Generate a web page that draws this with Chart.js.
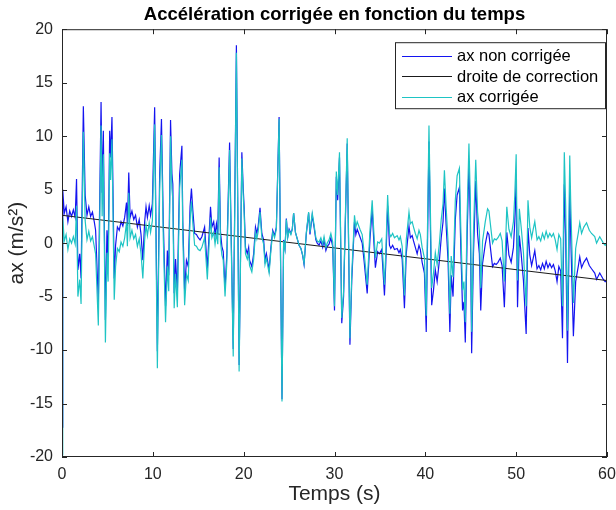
<!DOCTYPE html>
<html>
<head>
<meta charset="utf-8">
<script src="https://cdn.jsdelivr.net/npm/chart.js@4.4.0/dist/chart.umd.min.js"></script>
<style>
  html, body { margin: 0; padding: 0; background: #fff; }
</style>
</head>
<body>
<canvas id="graphe" width="616" height="510"></canvas>
<script>
// temps (s) des sommets
const temps = [
  0, 0.08, 0.25, 0.45, 0.65, 0.85, 1.05, 1.25, 1.45, 1.6,
  1.75, 1.95, 2.1, 2.35, 2.55, 2.75, 2.95, 3.15, 3.35, 3.55,
  3.7, 4.0, 4.3, 4.42, 4.55, 4.78, 4.95, 5.08, 5.25, 5.35,
  5.5, 5.75, 5.9, 6.1, 6.3, 6.5, 6.7, 6.9, 7.1, 7.2,
  7.35, 7.5, 7.7, 7.9, 8.1, 8.3, 8.5, 8.7, 8.9, 9.1,
  9.25, 9.4, 9.6, 9.75, 9.95, 10.2, 10.5, 10.75, 10.95, 11.15,
  11.4, 11.6, 11.75, 11.95, 12.1, 12.2, 12.35, 12.5, 12.7, 12.95,
  13.2, 13.3, 13.5, 13.7, 13.9, 14.1, 14.25, 14.4, 14.6, 14.8,
  15.0, 15.2, 15.4, 15.7, 16.0, 16.35, 16.5, 16.7, 16.85, 17.0,
  17.15, 17.3, 17.45, 17.6, 17.75, 17.95, 18.15, 18.45, 18.6, 18.85,
  19.2, 19.5, 19.8, 19.95, 20.05, 20.2, 20.4, 20.55, 20.65, 20.9,
  21.1, 21.3, 21.45, 21.6, 21.8, 22.0, 22.2, 22.35, 22.5, 22.8,
  23.0, 23.2, 23.4, 23.6, 23.9, 24.22, 24.4, 24.55, 24.7, 24.85,
  25.0, 25.2, 25.35, 25.5, 25.7, 25.9, 26.1, 26.3, 26.5, 26.65,
  26.9, 27.15, 27.3, 27.55, 27.75, 27.95, 28.1, 28.3, 28.5, 28.7,
  28.85, 29.05, 29.2, 29.4, 29.6, 29.8, 30.0, 30.2, 30.35, 30.55,
  30.8, 31.0, 31.4, 31.7, 31.9, 32.2, 32.35, 32.5, 32.8, 33.05,
  33.25, 33.6, 33.9, 34.15, 34.3, 34.5, 34.75, 34.95, 35.2, 35.5,
  35.65, 35.85, 36.05, 36.2, 36.4, 36.6, 36.9, 37.1, 37.25, 37.45,
  37.7, 37.9, 38.2, 38.35, 38.55, 38.7, 38.9, 39.1, 39.3, 39.45,
  39.65, 39.9, 40.1, 40.4, 40.7, 40.9, 41.1, 41.3, 41.55, 41.75,
  41.95, 42.1, 42.3, 42.5, 42.7, 42.85, 43.05, 43.3, 43.5, 43.75,
  43.9, 44.1, 44.25, 44.4, 44.6, 44.8, 44.95, 45.1, 45.3, 45.55,
  45.75, 45.95, 46.1, 46.3, 46.6, 46.85, 47.0, 47.2, 47.4, 47.6,
  47.8, 48.0, 48.25, 48.45, 48.7, 48.97, 49.2, 49.45, 49.7, 49.85,
  50.0, 50.15, 50.35, 50.55, 50.8, 51.1, 51.3, 51.5, 51.7, 51.9,
  52.05, 52.3, 52.5, 52.7, 52.9, 53.1, 53.3, 53.5, 53.7, 53.9,
  54.1, 54.3, 54.5, 54.7, 54.9, 55.1, 55.3, 55.45, 55.65, 55.9,
  56.0, 56.3, 56.55, 56.85, 57.0, 57.2, 57.45, 57.75, 58.05, 58.3,
  58.65, 58.85, 59.2, 59.6, 59.8, 60.0
];

// ax non corrigée (m/s²)
const axNonCorrigee = [
  -17.2, 5.0, 2.8, 3.4, 2.0, 3.0, 2.5, 3.1, 2.4, 6.0,
  -2.5, -1.0, -3.3, 12.8, 4.5, 2.6, 3.4, 2.5, 2.9, 2.0,
  1.2, -5.5, 13.2, 4.7, 10.5, -7.2, 1.2, -1.5, 10.5, 8.0,
  11.8, -3.3, -0.2, 1.5, 1.2, 2.0, 1.6, 2.4, 3.8, 1.6,
  6.6, 2.4, 3.0, 2.2, 2.6, 1.5, 2.2, 0.8, -1.6, 2.0,
  3.4, 2.4, 3.5, 2.6, 3.7, 12.7, -10.1, 6.4, 11.6, 2.0,
  -5.9, -0.7, -3.0, 11.5, 6.5, 5.5, -4.7, -1.5, -4.6, 6.4,
  9.1, 2.0, -4.5, -1.6, -2.2, 3.4, 5.1, 3.1, 0.9, 0.8,
  0.5, 0.3, 0.6, 1.5, -2.4, 3.4, 1.5, 2.0, 0.8, 1.8,
  0.8, 8.0, 1.0, -0.3, -0.8, -4.2, -1.0, 9.4, 2.0, -9.9,
  18.5, -11.4, 8.5, 5.1, 3.4, -0.4, -1.0, -0.4, -1.6, -2.2,
  -1.0, 1.5, 0.9, 1.6, 3.3, 0.9, 0.3, -1.6, -1.0, -2.5,
  -0.4, 1.2, 0.7, 1.5, 11.8, -14.6, 0.3, -0.5, 2.3, 0.6,
  1.3, 0.9, 1.3, 2.8, 1.0, 0.4, -0.2, -0.5, -1.2, -2.0,
  0.9, 2.8, 0.8, 2.6, 1.5, 0.3, 0.0, -0.2, 0.2, -0.4,
  0.3, -0.7, -0.3, -0.1, 0.5, -0.3, -6.3, 6.2, 4.0, 8.0,
  -7.5, -5.0, 9.3, -9.5, -3.5, 2.0, 0.8, 1.3, 0.6, 0.0,
  -1.6, -4.7, 0.3, 3.2, 0.6, -2.3, -0.8, -1.0, -0.6, -4.9,
  -1.8, 3.5, -0.2, -0.5, -0.2, -0.6, -0.5, -0.9, -0.6, -1.5,
  -6.1, -1.0, 1.6, 0.5, 0.7, 0.2, -0.4, -1.0, -0.2, -0.6,
  -1.8, -2.8, -8.3, 9.5, -5.8, -4.4, -2.5, -3.6, -1.6, 0.5,
  2.0, 5.1, 1.5, -1.6, -8.3, -3.0, -5.0, 2.2, 4.5, 5.2,
  -0.3, -6.3, -5.5, -9.3, 0.6, 7.4, 2.2, -10.3, -1.0, 5.8,
  0.9, -1.0, -6.3, -1.9, -0.1, 1.0, 0.8, -0.7, -2.2, -1.9,
  -2.0, -1.8, -1.4, -2.1, -6.0, 1.0, -1.1, -1.8, -0.4, 2.0,
  5.8, -6.0, 0.7, -1.0, -3.5, -8.5, 1.4, -1.1, -2.1, -1.3,
  -0.7, -2.4, -2.1, -2.5, -1.9, -2.4, -1.7, -2.3, -1.9, -2.3,
  -2.0, -2.6, -3.6, -2.2, -2.6, -8.9, 5.5, 0.5, -11.2, 5.1,
  0.9, -8.7, -3.6, -2.1, -1.3, -2.3, -1.8, -1.4, -2.1, -2.4,
  -2.8, -3.4, -2.8, -3.4, -3.6, -3.5
];

// ax corrigée (m/s²)
const axCorrigee = [
  -19.8, 2.4, 0.2, 0.8, -0.6, 0.4, 0.0, 0.6, -0.1, 3.5,
  -5.0, -3.4, -5.7, 10.4, 2.1, 0.3, 1.1, 0.2, 0.6, -0.3,
  -1.0, -7.7, 11.0, 2.5, 8.3, -9.3, -0.9, -3.6, 8.4, 5.9,
  9.7, -5.3, -2.2, -0.5, -0.8, 0.1, -0.3, 0.5, 1.9, -0.3,
  4.7, 0.5, 1.2, 0.4, 0.8, -0.3, 0.4, -1.0, -3.3, 0.3,
  1.7, 0.7, 1.9, 1.0, 2.1, 11.1, -11.7, 4.9, 10.1, 0.5,
  -7.4, -2.2, -4.5, 10.0, 5.1, 4.1, -6.1, -2.9, -6.0, 5.1,
  7.8, 0.7, -5.8, -2.9, -3.5, 2.2, 3.9, 1.9, -0.2, -0.3,
  -0.6, -0.7, -0.4, 0.5, -3.4, 2.4, 0.5, 1.0, -0.1, 0.9,
  -0.1, 7.1, 0.1, -1.1, -1.6, -5.0, -1.8, 8.7, 1.3, -10.6,
  17.8, -12.0, 7.9, 4.5, 2.8, -1.0, -1.5, -0.9, -2.1, -2.7,
  -1.5, 1.0, 0.4, 1.1, 2.9, 0.5, -0.1, -2.0, -1.4, -2.8,
  -0.7, 1.0, 0.5, 1.3, 11.6, -14.8, 0.2, -0.6, 2.2, 0.5,
  1.2, 0.8, 1.3, 2.8, 1.0, 0.4, -0.2, -0.5, -1.1, -1.9,
  1.0, 2.9, 1.0, 2.8, 1.7, 0.5, 0.2, 0.1, 0.5, -0.1,
  0.6, -0.4, 0.0, 0.3, 0.9, 0.1, -5.9, 6.7, 4.5, 8.5,
  -7.0, -4.5, 9.8, -8.9, -2.9, 2.6, 1.5, 2.0, 1.3, 0.8,
  -0.8, -3.9, 1.1, 4.0, 1.5, -1.4, 0.1, 0.0, 0.4, -3.9,
  -0.8, 4.5, 0.9, 0.6, 0.9, 0.5, 0.7, 0.3, 0.6, -0.3,
  -4.9, 0.3, 2.9, 1.8, 2.0, 1.5, 0.9, 0.4, 1.2, 0.8,
  -0.4, -1.4, -6.8, 11.0, -4.2, -2.8, -0.9, -2.0, 0.0, 2.2,
  3.7, 6.8, 3.2, 0.1, -6.6, -1.2, -3.2, 4.0, 6.3, 7.0,
  1.5, -4.4, -3.6, -7.4, 2.5, 9.3, 4.2, -8.3, 1.0, 7.8,
  2.9, 1.1, -4.2, 0.2, 2.0, 3.2, 3.0, 1.5, 0.0, 0.4,
  0.3, 0.5, 0.9, 0.2, -3.6, 3.4, 1.3, 0.6, 2.0, 4.5,
  8.3, -3.5, 3.2, 1.5, -0.9, -5.9, 4.0, 1.5, 0.5, 1.4,
  2.0, 0.3, 0.6, 0.2, 0.9, 0.4, 1.1, 0.5, 0.9, 0.6,
  0.9, 0.3, -0.6, 0.8, 0.4, -5.9, 8.5, 3.5, -8.2, 8.2,
  4.0, -5.6, -0.5, 1.0, 1.9, 0.9, 1.5, 1.9, 1.2, 0.9,
  0.6, 0.0, 0.6, 0.0, -0.2, 0.0
];

// droite de correction (extrémités)
const droiteTemps = [0, 60];
const droiteValeurs = [2.6, -3.5];

const POLICE = "'Liberation Sans', Arial, Helvetica, sans-serif";
const GRIS = '#262626';

function points(xs, ys) {
  return xs.map((t, i) => ({ x: t, y: ys[i] }));
}

// cadre fermé, graduations vers l'intérieur et légende encadrée (style MATLAB)
const cadreMatlab = {
  id: 'cadreMatlab',
  afterDatasetsDraw(chart) {
    const { ctx, chartArea: a, scales } = chart;
    ctx.save();
    ctx.strokeStyle = GRIS;
    ctx.lineWidth = 1;
    ctx.strokeRect(a.left + 0.5, a.top + 0.5, a.right - a.left - 1, a.bottom - a.top - 1);

    const lg = 5;
    ctx.beginPath();
    scales.x.ticks.forEach(tk => {
      const px = Math.round(scales.x.getPixelForValue(tk.value)) + 0.5;
      ctx.moveTo(px, a.bottom); ctx.lineTo(px, a.bottom - lg);
      ctx.moveTo(px, a.top); ctx.lineTo(px, a.top + lg);
    });
    scales.y.ticks.forEach(tk => {
      const py = Math.round(scales.y.getPixelForValue(tk.value)) + 0.5;
      ctx.moveTo(a.left, py); ctx.lineTo(a.left + lg, py);
      ctx.moveTo(a.right, py); ctx.lineTo(a.right - lg, py);
    });
    ctx.stroke();

    // légende
    const larg = 210, haut = 66;
    const bx = a.right - 2 - larg, by = a.top + 13;
    ctx.fillStyle = '#fff';
    ctx.fillRect(bx, by, larg, haut);
    ctx.strokeStyle = GRIS;
    ctx.strokeRect(bx + 0.5, by + 0.5, larg, haut);
    ctx.font = '16.5px ' + POLICE;
    ctx.textBaseline = 'middle';
    chart.data.datasets.forEach((ds, i) => {
      const yy = by + 13.5 + i * 20.5;
      ctx.strokeStyle = ds.borderColor;
      ctx.lineWidth = 1;
      ctx.beginPath();
      ctx.moveTo(bx + 7, Math.round(yy) + 0.5);
      ctx.lineTo(bx + 57, Math.round(yy) + 0.5);
      ctx.stroke();
      ctx.fillStyle = '#000';
      ctx.fillText(ds.label, bx + 62, yy + 1);
    });
    ctx.restore();
  }
};

new Chart(document.getElementById('graphe'), {
  type: 'line',
  data: {
    datasets: [
      {
        label: 'ax non corrigée',
        data: points(temps, axNonCorrigee),
        borderColor: '#1414f0',
        borderWidth: 1.2,
        pointRadius: 0,
        tension: 0,
        order: 3
      },
      {
        label: 'droite de correction',
        data: points(droiteTemps, droiteValeurs),
        borderColor: '#1a1a1a',
        borderWidth: 1,
        pointRadius: 0,
        order: 2
      },
      {
        label: 'ax corrigée',
        data: points(temps, axCorrigee),
        borderColor: '#1ec4c4',
        borderWidth: 1.2,
        pointRadius: 0,
        tension: 0,
        order: 1
      }
    ]
  },
  options: {
    responsive: false,
    animation: false,
    layout: { padding: 0 },
    plugins: {
      legend: { display: false },
      tooltip: { enabled: false },
      title: {
        display: true,
        fullSize: false,
        text: 'Accélération corrigée en fonction du temps',
        color: '#000',
        font: { family: POLICE, size: 18.5, weight: 'bold' },
        padding: { top: 4, bottom: 3 }
      }
    },
    scales: {
      x: {
        type: 'linear',
        min: 0,
        max: 60,
        grid: { display: false, drawTicks: false },
        border: { display: false },
        ticks: { stepSize: 10, color: GRIS, padding: 8, maxRotation: 0, font: { family: POLICE, size: 16 } },
        title: { display: true, text: 'Temps (s)', color: GRIS, font: { family: POLICE, size: 21 }, padding: { top: 2, bottom: 3 } },
        afterFit: s => { s.height = 53; s.paddingLeft = 0; s.paddingRight = 0; }
      },
      y: {
        min: -20,
        max: 20,
        grid: { display: false, drawTicks: false },
        border: { display: false },
        ticks: { stepSize: 5, color: GRIS, padding: 9, font: { family: POLICE, size: 16 } },
        title: { display: true, text: 'ax (m/s²)', color: GRIS, font: { family: POLICE, size: 21 }, padding: { top: 5, bottom: 4 } },
        afterFit: s => { s.width = 62; s.paddingTop = 0; s.paddingBottom = 0; }
      },
      // marge droite (axe vide)
      yDroite: {
        position: 'right',
        min: -20,
        max: 20,
        grid: { display: false, drawTicks: false },
        border: { display: false },
        ticks: { display: false },
        afterFit: s => { s.width = 9; s.paddingTop = 0; s.paddingBottom = 0; }
      }
    }
  },
  plugins: [cadreMatlab]
});
</script>
</body>
</html>
